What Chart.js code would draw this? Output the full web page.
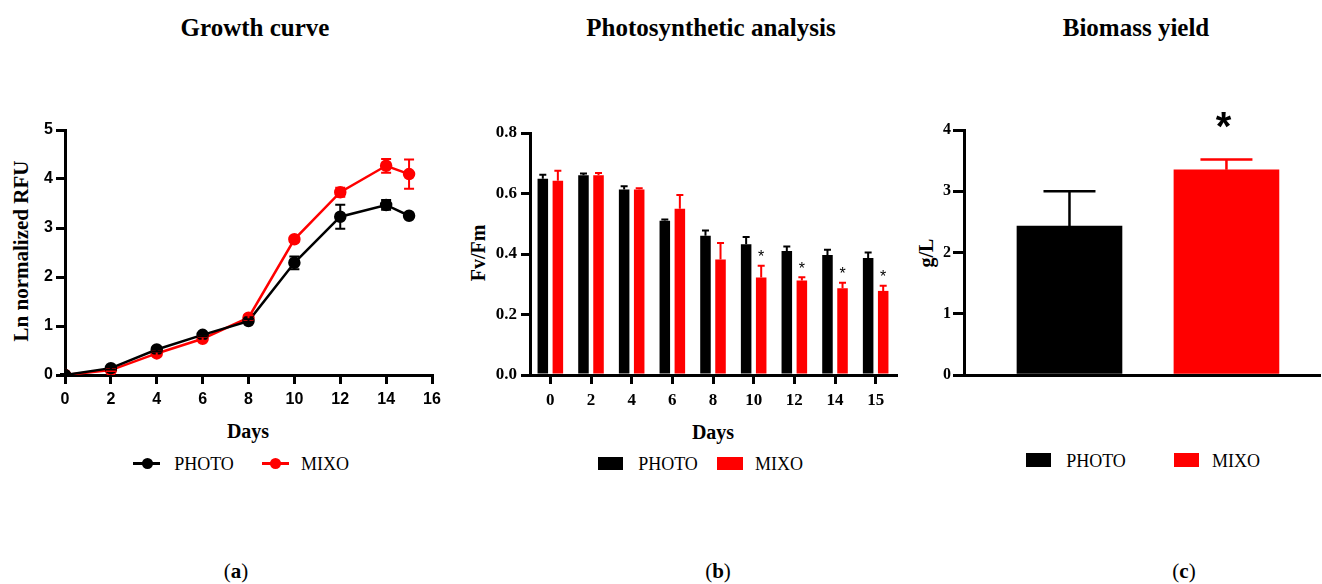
<!DOCTYPE html>
<html><head><meta charset="utf-8">
<script src="https://cdn.jsdelivr.net/npm/chart.js@4"></script>
<style>
body{margin:0;background:#fff;}
#wrap{position:relative;width:1322px;height:584px;overflow:hidden;font-family:'Liberation Serif',serif;color:#000;background:#fff;}
.t{position:absolute;white-space:nowrap;transform:translate(-50%,-50%);line-height:1;}
.title{font-weight:bold;font-size:25px;}
.ax{font-weight:bold;font-size:20px;}
.rot{transform:translate(-50%,-50%) rotate(-90deg);}
.lg{font-size:18px;}
.cap{font-size:21px;}
canvas{position:absolute;}
.sw{position:absolute;}
</style></head><body><div id="wrap">
<div class="t title" style="left:255px;top:27px">Growth curve</div>
<div class="t title" style="left:711px;top:27px">Photosynthetic analysis</div>
<div class="t title" style="left:1136px;top:27px">Biomass yield</div>

<div class="t ax rot" style="left:21px;top:251px;font-size:21px">Ln normalized RFU</div>
<div class="t ax" style="left:248px;top:431px">Days</div>
<div class="t ax rot" style="left:478px;top:253px">Fv/Fm</div>
<div class="t ax" style="left:713px;top:432px">Days</div>
<div class="t ax rot" style="left:926px;top:253px">g/L</div>

<!-- legend a -->
<div class="sw" style="left:133px;top:462px;width:27px;height:3px;background:#000"></div>
<div class="sw" style="left:142px;top:458px;width:11px;height:11px;border-radius:50%;background:#000"></div>
<div class="t lg" style="left:204px;top:464px">PHOTO</div>
<div class="sw" style="left:262px;top:462px;width:27px;height:3px;background:#f00"></div>
<div class="sw" style="left:270px;top:458px;width:11px;height:11px;border-radius:50%;background:#f00"></div>
<div class="t lg" style="left:325px;top:464px">MIXO</div>
<!-- legend b -->
<div class="sw" style="left:598px;top:457px;width:25px;height:13px;background:#000"></div>
<div class="t lg" style="left:668px;top:464px">PHOTO</div>
<div class="sw" style="left:717px;top:457px;width:26px;height:13px;background:#f00"></div>
<div class="t lg" style="left:779px;top:464px">MIXO</div>
<!-- legend c -->
<div class="sw" style="left:1026px;top:453px;width:25px;height:14px;background:#000"></div>
<div class="t lg" style="left:1096px;top:461px">PHOTO</div>
<div class="sw" style="left:1174px;top:453px;width:25px;height:14px;background:#f00"></div>
<div class="t lg" style="left:1236px;top:461px">MIXO</div>

<div class="t cap" style="left:236px;top:571px">(<b>a</b>)</div>
<div class="t cap" style="left:718px;top:571px">(<b>b</b>)</div>
<div class="t cap" style="left:1184px;top:571px">(<b>c</b>)</div>

<canvas id="ca" width="450" height="330" style="left:0;top:100px;width:450px;height:330px"></canvas>
<canvas id="cb" width="460" height="330" style="left:460px;top:100px;width:460px;height:330px"></canvas>
<canvas id="cc" width="402" height="330" style="left:920px;top:100px;width:402px;height:330px"></canvas>
</div>
<script>
// ---- data: growth curve (a)
const growthDays = [0, 2, 4, 6, 8, 10, 12, 14, 15];
const photoGrowth = [0, 0.14, 0.52, 0.82, 1.10, 2.29, 3.23, 3.47, 3.25];
const photoGrowthSD = [0.02, 0.03, 0.04, 0.03, 0.04, 0.13, 0.245, 0.10, 0.03];
const mixoGrowth = [0, 0.10, 0.44, 0.74, 1.17, 2.77, 3.73, 4.27, 4.10];
const mixoGrowthSD = [0.02, 0.02, 0.04, 0.04, 0.05, 0.05, 0.09, 0.14, 0.30];
// ---- data: Fv/Fm (b)
const fvDays = ['0', '2', '4', '6', '8', '10', '12', '14', '15'];
const photoFv = [0.649, 0.660, 0.613, 0.510, 0.460, 0.432, 0.410, 0.397, 0.387];
const photoFvSD = [0.013, 0.006, 0.011, 0.004, 0.018, 0.024, 0.015, 0.017, 0.018];
const mixoFv = [0.642, 0.660, 0.613, 0.550, 0.382, 0.322, 0.312, 0.287, 0.278];
const mixoFvSD = [0.033, 0.008, 0.004, 0.045, 0.054, 0.039, 0.011, 0.018, 0.017];
const fvSignificant = [false, false, false, false, false, true, true, true, true];
// ---- data: biomass (c)
const biomassGroups = ['PHOTO', 'MIXO'];
const biomass = [2.43, 3.35];
const biomassSD = [0.57, 0.17];
const biomassSignificant = [false, true];

const BLACK = '#000000', RED = '#ff0000';

function errPlugin(id, sets) {
  return {
    id: id,
    afterDatasetsDraw(chart) {
      const ctx = chart.ctx, ys = chart.scales.y;
      sets.forEach(s => {
        const meta = chart.getDatasetMeta(s.ds);
        ctx.save();
        ctx.strokeStyle = s.color; ctx.lineWidth = s.lw;
        meta.data.forEach((el, i) => {
          const v = s.values[i], e = s.err[i];
          const x = el.x;
          const yTop = ys.getPixelForValue(v + e);
          const yBot = ys.getPixelForValue(s.both ? v - e : v);
          if (e > 0) {
            ctx.beginPath();
            ctx.moveTo(x, yBot); ctx.lineTo(x, yTop);
            ctx.moveTo(x - s.cap, yTop); ctx.lineTo(x + s.cap, yTop);
            if (s.both) { ctx.moveTo(x - s.cap, yBot); ctx.lineTo(x + s.cap, yBot); }
            ctx.stroke();
          }
          if (s.stars && s.stars[i]) {
            ctx.fillStyle = '#000';
            ctx.font = s.starFont;
            ctx.textAlign = 'center'; ctx.textBaseline = 'middle';
            ctx.fillText('*', x, yTop - s.starGap);
          }
        });
        ctx.restore();
      });
    }
  };
}

function axisCommon(extra) {
  return Object.assign({
    border: { display: true, color: '#000', width: 3 },
    grid: { display: true, drawOnChartArea: false, drawTicks: true, tickLength: 9, color: '#000', lineWidth: 3, offset: false },
  }, extra);
}

// ---------- Panel a
new Chart(document.getElementById('ca'), {
  type: 'line',
  data: {
    datasets: [
      { label: 'PHOTO', data: growthDays.map((d, i) => ({ x: d, y: photoGrowth[i] })), borderColor: BLACK, backgroundColor: BLACK, borderWidth: 2.5, pointRadius: 5, pointHoverRadius: 5 },
      { label: 'MIXO', data: growthDays.map((d, i) => ({ x: d, y: mixoGrowth[i] })), borderColor: RED, backgroundColor: RED, borderWidth: 2.5, pointRadius: 5, pointHoverRadius: 5 }
    ]
  },
  options: {
    animation: false, responsive: false, events: [],
    layout: { padding: { left: 0, right: 18, top: 30, bottom: 0 } },
    plugins: { legend: { display: false }, tooltip: { enabled: false } },
    scales: {
      x: axisCommon({ type: 'linear', min: 0, max: 16, afterFit: s => { s.height = 55; },
        ticks: { stepSize: 2, color: '#000', padding: 6, font: { family: 'Liberation Sans', weight: 'bold', size: 16 } } }),
      y: axisCommon({ type: 'linear', min: 0, max: 5, afterFit: s => { s.width = 65; },
        ticks: { stepSize: 1, color: '#000', padding: 3, font: { family: 'Liberation Sans', weight: 'bold', size: 16 } } })
    }
  },
  plugins: [errPlugin('erra', [
    { ds: 1, values: mixoGrowth, err: mixoGrowthSD, color: RED, lw: 2, cap: 5, both: true },
    { ds: 0, values: photoGrowth, err: photoGrowthSD, color: BLACK, lw: 2, cap: 5, both: true }
  ])]
});

// ---------- Panel b
const serifTick = (size) => ({ family: 'Liberation Serif', weight: 'bold', size: size });
new Chart(document.getElementById('cb'), {
  type: 'bar',
  data: {
    labels: fvDays,
    datasets: [
      { label: 'PHOTO', data: photoFv, backgroundColor: BLACK, categoryPercentage: 0.74, barPercentage: 0.7 },
      { label: 'MIXO', data: mixoFv, backgroundColor: RED, categoryPercentage: 0.74, barPercentage: 0.7 }
    ]
  },
  options: {
    animation: false, responsive: false, events: [],
    layout: { padding: { left: 0, right: 24, top: 33, bottom: 0 } },
    plugins: { legend: { display: false }, tooltip: { enabled: false } },
    scales: {
      x: axisCommon({ type: 'category', afterFit: s => { s.height = 55; },
        ticks: { color: '#000', padding: 6, font: serifTick(17) } }),
      y: axisCommon({ type: 'linear', min: 0, max: 0.8, afterFit: s => { s.width = 70; },
        ticks: { stepSize: 0.2, color: '#000', padding: 4, font: serifTick(17), callback: v => Number(v).toFixed(1) } })
    }
  },
  plugins: [errPlugin('errb', [
    { ds: 0, values: photoFv, err: photoFvSD, color: BLACK, lw: 2, cap: 3.5, both: false },
    { ds: 1, values: mixoFv, err: mixoFvSD, color: RED, lw: 2, cap: 3.5, both: false, stars: fvSignificant, starFont: '16px "Liberation Sans"', starGap: 8 }
  ])]
});

// ---------- Panel c
new Chart(document.getElementById('cc'), {
  type: 'bar',
  data: {
    datasets: [
      { label: 'g/L', data: biomassGroups.map((g, i) => ({ x: i + 1, y: biomass[i] })), backgroundColor: [BLACK, RED], barThickness: 105 }
    ]
  },
  options: {
    animation: false, responsive: false, events: [],
    layout: { padding: { left: 0, right: 2, top: 30, bottom: 0 } },
    plugins: { legend: { display: false }, tooltip: { enabled: false } },
    scales: {
      x: { type: 'linear', offset: false, min: 0.328, max: 2.596, afterFit: s => { s.height = 55; },
        border: { display: true, color: '#000', width: 3 }, grid: { display: false }, ticks: { display: false } },
      y: axisCommon({ type: 'linear', min: 0, max: 4, afterFit: s => { s.width = 44; },
        grid: { display: true, drawOnChartArea: false, drawTicks: true, tickLength: 11, color: '#000', lineWidth: 3 },
        ticks: { stepSize: 1, color: '#000', padding: 2, font: serifTick(16) } })
    }
  },
  plugins: [{
    id: 'errc',
    afterDatasetsDraw(chart) {
      const ctx = chart.ctx, ys = chart.scales.y;
      const meta = chart.getDatasetMeta(0);
      meta.data.forEach((el, i) => {
        const col = i === 0 ? BLACK : RED;
        const yTop = ys.getPixelForValue(biomass[i] + biomassSD[i]);
        const yBar = ys.getPixelForValue(biomass[i]);
        ctx.save();
        ctx.strokeStyle = col; ctx.lineWidth = 2.5;
        ctx.beginPath();
        ctx.moveTo(el.x, yBar); ctx.lineTo(el.x, yTop);
        ctx.moveTo(el.x - 26, yTop); ctx.lineTo(el.x + 26, yTop);
        ctx.stroke();
        if (biomassSignificant[i]) {
          ctx.fillStyle = '#000';
          ctx.font = 'bold 40px "Liberation Sans"';
          ctx.textAlign = 'center'; ctx.textBaseline = 'middle';
          ctx.fillText('*', el.x - 3, yTop - 30);
        }
        ctx.restore();
      });
    }
  }]
});
</script>
</body></html>
